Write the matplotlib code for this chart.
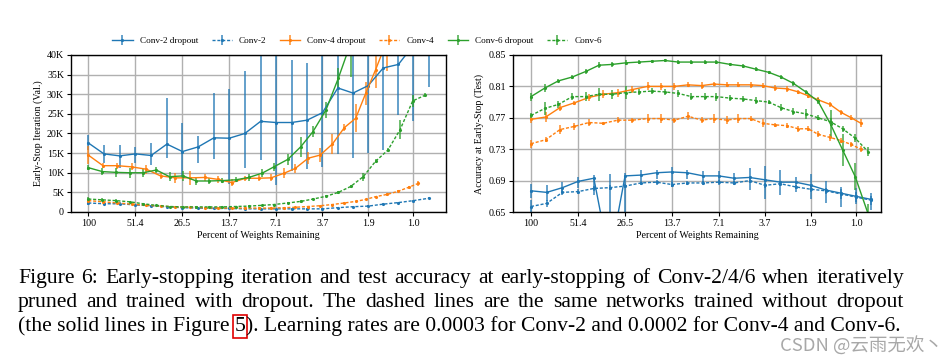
import matplotlib
matplotlib.use('Agg')
import matplotlib.pyplot as plt
from matplotlib.ticker import FixedLocator, NullLocator, FixedFormatter

plt.rcParams['font.family'] = ['Liberation Serif', 'DejaVu Serif']

# x: percent of weights remaining, per network
conv2_pct = [100, 80.1, 64.2, 51.4, 41.2, 33.0, 26.5, 21.2, 17.0, 13.7, 11.0, 8.80,
             7.07, 5.69, 4.57, 3.68, 2.96, 2.39, 1.93, 1.56, 1.26, 1.02, 0.82]
conv4_pct = [100, 81.3, 66.4, 54.3, 44.1, 36.1, 29.3, 23.9, 19.3, 16.0, 13.2, 10.9, 9.0,
             7.6, 6.3, 5.4, 4.5, 3.8, 3.2, 2.7, 2.3, 2.0, 1.74, 1.47, 1.26, 1.09, 0.95]
conv6_pct = [100, 82.1, 68.0, 55.8, 46.2, 38.3, 31.8, 26.3, 21.8, 18.2, 15.1, 12.5, 10.4,
             8.6, 7.3, 6.0, 5.0, 4.2, 3.5, 2.94, 2.47, 2.07, 1.74, 1.46, 1.23, 1.03, 0.86]
tick_labels = ['100', '51.4', '26.5', '13.7', '7.1', '3.7', '1.9', '1.0']

# left panel: early-stop iteration (thousands)
c2d_iter = [17.6, 14.8, 14.3, 14.8, 14.4, 17.3, 15.4, 16.6, 18.9, 18.8, 20.0, 23.1,
            22.8, 22.8, 23.4, 25.3, 31.6, 30.3, 32.2, 36.7, 37.6, 42.5, 46.0]
c2d_iter_lo = [15.8, 12.4, 11.1, 12.4, 11.9, 13.7, 8.6, 12.4, 13.4, 7.2, 11.1, 13.2,
               7.0, 10.5, 10.9, 11.5, 14.8, 13.7, 15.1, 15.8, 24.7, 23.3, 31.8]
c2d_iter_hi = [19.6, 17.1, 17.1, 16.5, 17.6, 29.0, 22.8, 19.3, 30.4, 31.3, 36.0, 45,
               45, 38.7, 37.9, 45, 45, 45, 45, 45, 45, 50, 50]
c2_iter = [2.3, 2.1, 2.1, 1.8, 1.6, 1.3, 1.1, 1.0, 0.9, 0.9, 0.8, 0.8, 0.8, 0.8, 0.8,
           0.8, 1.1, 1.35, 1.5, 2.0, 2.4, 2.9, 3.5]
c2_iter_err = [0.4, 0.3, 0.4, 0.3, 0.3, 0.2, 0.2, 0.2, 0.2, 0.2, 0.2, 0.2, 0.2, 0.2,
               0.2, 0.2, 0.2, 0.2, 0.2, 0.2, 0.2, 0.2, 0.3]
c4d_iter = [14.5, 11.8, 11.8, 11.5, 10.9, 9.2, 8.7, 8.7, 8.8, 8.3, 7.5, 8.6, 8.6, 8.7,
            9.9, 11.1, 13.7, 14.5, 17.3, 21.5, 23.9, 30.2, 36.2, 44.0]
c4d_iter_err = [2.3, 0.7, 0.8, 0.9, 1.2, 0.8, 1.2, 1.8, 1.0, 0.9, 0.8, 0.6, 0.8, 0.9,
                1.3, 1.2, 1.5, 1.8, 2.5, 0.8, 3.5, 3.0, 4.5, 8.0]
c4_iter = [2.9, 2.6, 2.3, 2.0, 1.7, 1.5, 1.3, 1.2, 1.1, 1.0, 1.0, 1.0, 1.0, 1.0, 1.1,
           1.2, 1.4, 1.6, 1.9, 2.3, 2.7, 3.2, 3.9, 4.5, 5.3, 6.3, 7.3]
c4_iter_err = [0.5, 0.3, 0.3, 0.3, 0.2, 0.2, 0.2, 0.2, 0.2, 0.2, 0.2, 0.2, 0.2, 0.2,
               0.2, 0.2, 0.2, 0.2, 0.2, 0.2, 0.2, 0.2, 0.3, 0.3, 0.3, 0.4, 0.6]
c6d_iter = [11.3, 10.3, 10.1, 10.0, 10.0, 10.7, 9.0, 9.2, 7.9, 7.9, 8.0, 8.2, 8.8, 9.9,
            11.5, 13.4, 16.6, 20.5, 26.0, 34.1, 43.0]
c6d_iter_err = [0.6, 1.0, 1.2, 1.3, 1.0, 0.8, 1.2, 1.2, 1.0, 0.8, 0.6, 0.6, 0.8, 1.0,
                1.0, 1.5, 2.5, 1.5, 2.0, 2.5, 8.5]
c6_iter = [3.3, 3.1, 2.9, 2.6, 2.1, 1.7, 1.4, 1.3, 1.3, 1.3, 1.3, 1.4, 1.5, 1.7, 1.9,
           2.3, 2.7, 3.3, 4.0, 5.0, 6.5, 9.0, 12.9, 15.8, 21.0, 28.3, 29.8]
c6_iter_err = [0.5, 0.4, 0.3, 0.3, 0.3, 0.2, 0.2, 0.2, 0.2, 0.2, 0.2, 0.2, 0.2, 0.2,
               0.2, 0.2, 0.3, 0.3, 0.3, 0.3, 0.5, 1.0, 0.5, 0.5, 2.4, 1.5, 0.5]

# right panel: test accuracy at early stop
c2d_acc = [0.677, 0.675, 0.681, 0.689, 0.693, 0.590, 0.696, 0.697, 0.700, 0.701, 0.700,
           0.696, 0.696, 0.693, 0.694, 0.691, 0.688, 0.688, 0.684, 0.678, 0.674, 0.670, 0.666]
c2d_acc_lo = [0.668, 0.664, 0.676, 0.680, 0.672, 0.550, 0.640, 0.690, 0.692, 0.682, 0.692,
              0.688, 0.690, 0.686, 0.678, 0.667, 0.672, 0.676, 0.667, 0.661, 0.657, 0.660, 0.653]
c2d_acc_hi = [0.686, 0.684, 0.688, 0.694, 0.697, 0.699, 0.700, 0.703, 0.704, 0.707, 0.704,
              0.702, 0.702, 0.700, 0.706, 0.708, 0.703, 0.694, 0.698, 0.689, 0.682, 0.680, 0.674]
c2_acc = [0.657, 0.661, 0.675, 0.676, 0.680, 0.681, 0.683, 0.687, 0.688, 0.685, 0.687,
          0.687, 0.688, 0.687, 0.690, 0.684, 0.686, 0.682, 0.679, 0.677, 0.673, 0.669, 0.665]
c2_acc_err = [0.008, 0.004, 0.003, 0.003, 0.003, 0.003, 0.003, 0.003, 0.003, 0.003, 0.003,
              0.003, 0.003, 0.003, 0.003, 0.003, 0.003, 0.003, 0.004, 0.004, 0.006, 0.006, 0.006]
c4d_acc = [0.768, 0.771, 0.783, 0.789, 0.796, 0.800, 0.802, 0.806, 0.810, 0.810, 0.810,
           0.812, 0.811, 0.813, 0.812, 0.812, 0.812, 0.811, 0.808, 0.807, 0.803, 0.798,
           0.793, 0.787, 0.777, 0.770, 0.763]
c4d_acc_err = [0.004, 0.006, 0.004, 0.003, 0.004, 0.005, 0.005, 0.004, 0.005, 0.004, 0.004,
               0.003, 0.004, 0.003, 0.003, 0.003, 0.004, 0.003, 0.004, 0.004, 0.003, 0.003,
               0.003, 0.003, 0.003, 0.003, 0.005]
c4_acc = [0.737, 0.742, 0.755, 0.759, 0.764, 0.763, 0.767, 0.767, 0.769, 0.769, 0.767,
          0.772, 0.767, 0.769, 0.767, 0.769, 0.769, 0.763, 0.761, 0.760, 0.756, 0.756,
          0.749, 0.745, 0.741, 0.736, 0.730]
c4_acc_err = [0.005, 0.003, 0.006, 0.004, 0.005, 0.002, 0.004, 0.003, 0.006, 0.006, 0.003,
              0.005, 0.004, 0.006, 0.005, 0.006, 0.003, 0.005, 0.003, 0.003, 0.004, 0.003,
              0.004, 0.004, 0.003, 0.003, 0.004]
c6d_acc = [0.797, 0.808, 0.817, 0.822, 0.829, 0.837, 0.838, 0.840, 0.841, 0.842, 0.843,
           0.841, 0.841, 0.841, 0.841, 0.838, 0.836, 0.832, 0.828, 0.822, 0.814, 0.803,
           0.791, 0.762, 0.729, 0.695, 0.648]
c6d_acc_err = [0.005, 0.005, 0.002, 0.003, 0.003, 0.004, 0.003, 0.003, 0.002, 0.002, 0.002,
               0.002, 0.002, 0.002, 0.002, 0.002, 0.003, 0.003, 0.002, 0.002, 0.003, 0.003,
               0.004, 0.018, 0.020, 0.017, 0.012]
c6_acc = [0.773, 0.782, 0.787, 0.797, 0.797, 0.800, 0.800, 0.802, 0.803, 0.804, 0.803,
          0.801, 0.797, 0.797, 0.797, 0.795, 0.794, 0.792, 0.790, 0.783, 0.778, 0.775,
          0.770, 0.765, 0.756, 0.744, 0.727]
c6_acc_err = [0.003, 0.008, 0.005, 0.004, 0.006, 0.008, 0.006, 0.008, 0.004, 0.004, 0.004,
              0.004, 0.004, 0.004, 0.005, 0.004, 0.004, 0.004, 0.003, 0.004, 0.004, 0.006,
              0.003, 0.005, 0.004, 0.005, 0.006]

BLUE, ORANGE, GREEN = '#1f77b4', '#ff7f0e', '#2ca02c'
DASH = (0, (2.2, 1.3))


def draw(ax, x, y, err, color, dashed, label):
    c = ax.errorbar(x[:len(y)], y, yerr=err, color=color, ls=DASH if dashed else '-',
                    lw=1.0, marker='.', ms=2.5, elinewidth=1.3, capsize=0, label=label)
    c[2][0].set_alpha(0.75)
    return c


def style(ax, xlim, ylabel):
    ax.set_xscale('log')
    ax.set_xlim(*xlim)
    ax.xaxis.set_major_locator(FixedLocator(conv2_pct[::3]))
    ax.xaxis.set_major_formatter(FixedFormatter(tick_labels))
    ax.xaxis.set_minor_locator(NullLocator())
    ax.grid(True, color='#b0b0b0', lw=1.0)
    ax.set_axisbelow(True)
    ax.tick_params(labelsize=7.2, length=3, width=0.8, pad=2)
    ax.set_xlabel('Percent of Weights Remaining', fontsize=7.2, labelpad=2)
    ax.set_ylabel(ylabel, fontsize=7.2, labelpad=3)
    for s in ax.spines.values():
        s.set_linewidth(1.0)


fig = plt.figure(figsize=(9.53, 3.62), dpi=100)
ax1 = fig.add_axes([71 / 953, 1 - 212 / 362, 375 / 953, 157 / 362])
ax2 = fig.add_axes([513 / 953, 1 - 212 / 362, 368 / 953, 157 / 362])

k = 1000
c2d_err = [[(m - l) * k for m, l in zip(c2d_iter, c2d_iter_lo)],
           [(h - m) * k for m, h in zip(c2d_iter, c2d_iter_hi)]]
h = []
h.append(draw(ax1, conv2_pct, [v * k for v in c2d_iter], c2d_err, BLUE, False, 'Conv-2 dropout'))
h.append(draw(ax1, conv2_pct, [v * k for v in c2_iter], [v * k for v in c2_iter_err], BLUE, True, 'Conv-2'))
h.append(draw(ax1, conv4_pct, [v * k for v in c4d_iter], [v * k for v in c4d_iter_err], ORANGE, False, 'Conv-4 dropout'))
h.append(draw(ax1, conv4_pct, [v * k for v in c4_iter], [v * k for v in c4_iter_err], ORANGE, True, 'Conv-4'))
h.append(draw(ax1, conv6_pct, [v * k for v in c6d_iter], [v * k for v in c6d_iter_err], GREEN, False, 'Conv-6 dropout'))
h.append(draw(ax1, conv6_pct, [v * k for v in c6_iter], [v * k for v in c6_iter_err], GREEN, True, 'Conv-6'))
style(ax1, (127.6, 0.644), 'Early-Stop Iteration (Val.)')
ax1.set_ylim(0, 40000)
ax1.set_yticks(range(0, 40001, 5000))
ax1.set_yticklabels(['0'] + ['%dK' % v for v in range(5, 41, 5)])

acc_err = [[m - l for m, l in zip(c2d_acc, c2d_acc_lo)],
           [hh - m for m, hh in zip(c2d_acc, c2d_acc_hi)]]
draw(ax2, conv2_pct, c2d_acc, acc_err, BLUE, False, None)
draw(ax2, conv2_pct, c2_acc, c2_acc_err, BLUE, True, None)
draw(ax2, conv4_pct, c4d_acc, c4d_acc_err, ORANGE, False, None)
draw(ax2, conv4_pct, c4_acc, c4_acc_err, ORANGE, True, None)
draw(ax2, conv6_pct, c6d_acc, c6d_acc_err, GREEN, False, None)
draw(ax2, conv6_pct, c6_acc, c6_acc_err, GREEN, True, None)
style(ax2, (128.9, 0.716), 'Accuracy at Early-Stop (Test)')
ax2.set_ylim(0.65, 0.85)
ax2.set_yticks([0.65, 0.69, 0.73, 0.77, 0.81, 0.85])

fig.legend(handles=h, loc='center', bbox_to_anchor=(357 / 953, 1 - 41 / 362), ncol=6,
           frameon=False, fontsize=6.6, handlelength=2.2, columnspacing=1.45, handletextpad=0.8)

# caption (first two lines justified like the LaTeX original)
cap = dict(fontsize=15.6, ha='left', va='baseline')
r = fig.canvas.get_renderer()
W = 953
x0, x_end = 18, 904


def justified(line, y):
    words = line.split(' ')
    texts = [fig.text(0, y, w, **cap) for w in words]
    widths = [t.get_window_extent(r).width for t in texts]
    gap = (x_end - x0 - sum(widths)) / (len(words) - 1)
    x = x0
    for t, w in zip(texts, widths):
        t.set_x(x / W)
        x += w + gap


justified('Figure 6: Early-stopping iteration and test accuracy at early-stopping '
          'of Conv-2/4/6 when iteratively', 1 - 283 / 362)
justified('pruned and trained with dropout. The dashed lines are the same '
          'networks trained without dropout', 1 - 307 / 362)
t = fig.text(x0 / W, 1 - 331 / 362, '(the solid lines in Figure ', **cap)
x1 = t.get_window_extent(r).x1 / W
t = fig.text(x1, 1 - 331 / 362, '5', bbox=dict(boxstyle='square,pad=0.08', fc='none',
                                             ec='#e00000', lw=1.2), **cap)
x2 = t.get_window_extent(r).x1 / W
fig.text(x2, 1 - 331 / 362, '). Learning rates are 0.0003 for Conv-2 and 0.0002 for '
         'Conv-4 and Conv-6.', **cap)

fig.text(780 / W, 1 - 346 / 362, 'CSDN @云雨无欢丶', fontsize=13.3, color='#a8a8a8',
         va='center', family=['Noto Sans CJK SC', 'DejaVu Sans'])

fig.savefig('out.png', dpi=100)
